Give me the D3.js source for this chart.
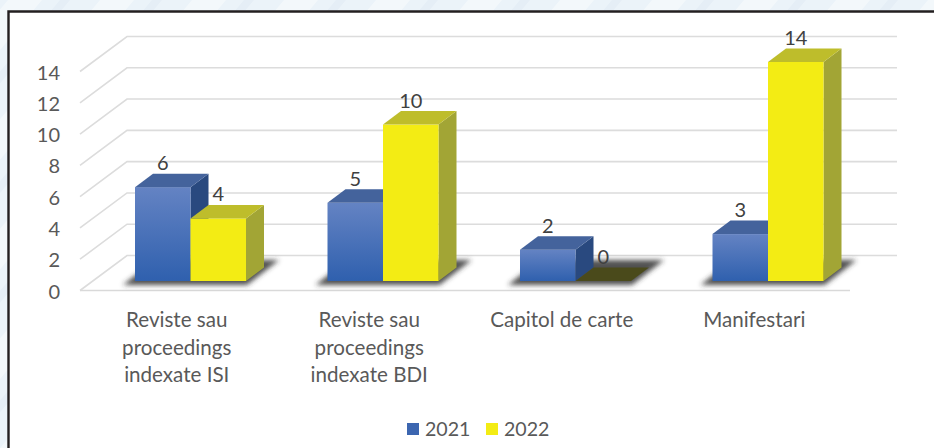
<!DOCTYPE html>
<html>
<head>
<meta charset="utf-8">
<script src="https://cdn.jsdelivr.net/npm/d3@7"></script>
<style>
  html, body { margin: 0; padding: 0; background: #fff; overflow: hidden; }
  text { font-family: Lato, "Open Sans", sans-serif; }
</style>
</head>
<body>
<div class="chart"></div>
<script>
const categories = [
  ['Reviste sau', 'proceedings', 'indexate ISI'],
  ['Reviste sau', 'proceedings', 'indexate BDI'],
  ['Capitol de carte'],
  ['Manifestari']
];
const seriesNames = ['2021', '2022'];
const values2021 = [6, 5, 2, 3];
const values2022 = [4, 10, 0, 14];
const yTicks = [0, 2, 4, 6, 8, 10, 12, 14];

const width = 934,
  height = 448;

// 3d offsets of the chart box and of the bars
const wallDepth = { x: 47, y: -35 },
  barDepth = { x: 18, y: -13.5 },
  barInset = { x: 14.5, y: -9.5 },
  shadowDepth = { x: 32, y: -25 };

const colors = {
  2021: { top: '#44639c', side: '#29497f' },
  2022: { top: '#bebd2b', side: '#a2a535' }
};

const svg = d3.select('.chart').append('svg').attr('width', width).attr('height', height);
const defs = svg.append('defs');

const frontGrad = defs.append('linearGradient').attr('id', 'blue-front').attr('x1', 0).attr('x2', 0).attr('y1', 0).attr('y2', 1);
frontGrad.append('stop').attr('offset', '0%').attr('stop-color', '#6483c3');
frontGrad.append('stop').attr('offset', '100%').attr('stop-color', '#2f60ae');

defs.append('filter').attr('id', 'blur').attr('x', '-20%').attr('y', '-60%').attr('width', '140%').attr('height', '220%')
  .append('feGaussianBlur').attr('stdDeviation', 2.8);

const bgPattern = defs.append('pattern').attr('id', 'paper').attr('patternUnits', 'userSpaceOnUse')
  .attr('width', 92).attr('height', 60).attr('patternTransform', 'skewX(-40)');
bgPattern.append('rect').attr('width', 92).attr('height', 60).attr('fill', '#ebf3f9');
bgPattern.append('rect').attr('x', 8).attr('width', 34).attr('height', 60).attr('fill', '#f3f8fb');
bgPattern.append('rect').attr('x', 60).attr('width', 10).attr('height', 60).attr('fill', '#e5eef6');

// page background and the black frame, open on the right and at the bottom
svg.append('rect').attr('width', width).attr('height', height).attr('fill', 'url(#paper)');
svg.append('rect').attr('x', 8).attr('y', 11).attr('width', width).attr('height', height).attr('fill', '#fff');
svg.append('path').attr('d', `M8.5,${height}V11.5H${width}`).attr('fill', 'none').attr('stroke', '#231f20').attr('stroke-width', 2.4);

// front plane of the axis box
const x = d3.scaleBand().domain(d3.range(categories.length)).range([80, 850]);
const y = d3.scaleLinear().domain([0, 14]).range([290.5, 71.5]);
const xSeries = d3.scaleBand().domain(seriesNames).range([0, 111]);

const barX = (i, s) => x(i) + 40.5 + barInset.x + xSeries(s);
const barY = d3.scaleLinear().domain(y.domain()).range([y(0) + barInset.y, y(14) + barInset.y]);

// grid: floor edge, left wall diagonals, back wall
const grid = svg.append('g').attr('fill', 'none').attr('stroke', '#dcdcdc').attr('stroke-width', 1.6);
yTicks.forEach(t => {
  grid.append('path').attr('d', `M${x.range()[0]},${y(t)}l${wallDepth.x},${wallDepth.y}H${x.range()[1] + wallDepth.x}`);
});
grid.append('path').attr('d', `M${x.range()[0]},${y(0)}H${x.range()[1]}`).attr('stroke', '#d9d9d9');

// y axis labels
svg.append('g').selectAll('text').data(yTicks).join('text')
  .attr('x', 60).attr('y', d => y(d) + 8)
  .attr('text-anchor', 'end')
  .attr('font-size', 20).attr('fill', '#595959')
  .text(d => d);

// shadows on the floor
const shadows = svg.append('g').attr('filter', 'url(#blur)').attr('fill', '#333').attr('fill-opacity', 0.85);
categories.forEach((c, i) => {
  const x0 = barX(i, '2021') - 12,
    x1 = barX(i, '2022') + xSeries.bandwidth() + 1,
    y0 = barY(0) + 4;
  shadows.append('path').attr('d', `M${x0},${y0}H${x1}l${shadowDepth.x},${shadowDepth.y}H${x0 + shadowDepth.x}Z`);
});

function drawBar(g, i, s, v) {
  const bx = barX(i, s),
    bw = xSeries.bandwidth(),
    top = barY(v),
    base = barY(0),
    c = colors[s];
  const bar = g.append('g');
  if (v > 0) {
    bar.append('path').attr('fill', c.side)
      .attr('d', `M${bx + bw},${top}l${barDepth.x},${barDepth.y}V${base + barDepth.y}l${-barDepth.x},${-barDepth.y}Z`);
    bar.append('rect').attr('x', bx).attr('y', top).attr('width', bw).attr('height', base - top)
      .attr('fill', s === '2021' ? 'url(#blue-front)' : '#f3ec14');
  }
  bar.append('path').attr('fill', v > 0 ? c.top : '#4a4a1b')
    .attr('d', `M${bx},${top}l${barDepth.x},${barDepth.y}h${bw}l${-barDepth.x},${-barDepth.y}Z`);
}

// series 2021 first so the 2022 bars sit in front of its side face
const bars = svg.append('g');
values2021.forEach((v, i) => drawBar(bars, i, '2021', v));
values2022.forEach((v, i) => drawBar(bars, i, '2022', v));

// data labels
const labels = svg.append('g').attr('text-anchor', 'middle').attr('font-size', 20).attr('fill', '#404040');
categories.forEach((c, i) => {
  labels.append('text').attr('x', barX(i, '2021') + xSeries.bandwidth() / 2).attr('y', barY(values2021[i]) - 17).text(values2021[i]);
  labels.append('text').attr('x', barX(i, '2022') + xSeries.bandwidth() / 2).attr('y', barY(values2022[i]) - 17).text(values2022[i]);
});

// category labels
const catLabels = svg.append('g').attr('text-anchor', 'middle').attr('font-size', 20.6).attr('fill', '#595959');
categories.forEach((lines, i) => {
  const t = catLabels.append('text').attr('y', 327);
  lines.forEach((line, n) => {
    t.append('tspan').attr('x', x(i) + x.bandwidth() / 2 + 0.5).attr('dy', n ? 27.7 : 0).text(line);
  });
});

// legend
const legend = svg.append('g');
const legendX = d3.scalePoint().domain(seriesNames).range([407, 486]);
seriesNames.forEach(s => {
  legend.append('rect').attr('x', legendX(s)).attr('y', 423).attr('width', 12).attr('height', 12)
    .attr('fill', s === '2021' ? '#3c66b0' : '#f3ec14');
  legend.append('text').attr('x', legendX(s) + 18).attr('y', 436).attr('font-size', 19.6).attr('fill', '#595959').text(s);
});
</script>
</body>
</html>
